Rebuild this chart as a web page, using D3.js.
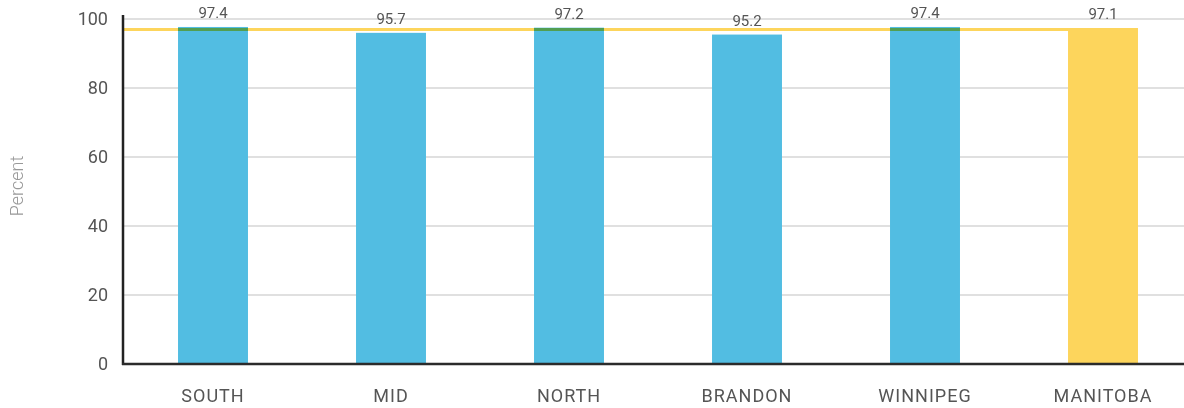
<!DOCTYPE html>
<html><head><meta charset="utf-8">
<script src="https://cdn.jsdelivr.net/npm/d3@7"></script>
<style>
html,body{margin:0;padding:0;background:#fff;}
svg{display:block;font-family:Roboto,"DejaVu Sans",sans-serif;}
</style></head>
<body>
<svg id="chart" width="1184" height="408"></svg>
<script>
const categories = ["SOUTH","MID","NORTH","BRANDON","WINNIPEG","MANITOBA"];
const values = [97.4, 95.7, 97.2, 95.2, 97.4, 97.1];
const provinceValue = 97.1;
const yTicks = [0,20,40,60,80,100];
const yLabel = "Percent";

const svg = d3.select("#chart");
const W = 1184, H = 408;
const m = {left:123, right:0, top:17, bottom:44};
const plotBottom = 364;

const x = d3.scaleBand().domain(categories).range([124, 1192])
  .paddingInner(0.607).paddingOuter(0.3035);
const y = d3.scaleLinear().domain([0,100]).range([plotBottom, 19]);

// gridlines
svg.append("g").selectAll("line").data(yTicks.filter(d=>d>0)).join("line")
  .attr("x1", m.left).attr("x2", W)
  .attr("y1", d=>y(d)).attr("y2", d=>y(d))
  .attr("stroke", "#d6d6d6").attr("stroke-width", 1.5);

// y tick labels
const yAxis = d3.axisLeft(y).tickValues(yTicks).tickSize(0).tickPadding(15);
const ga = svg.append("g").attr("transform", `translate(${m.left},0)`).call(yAxis);
ga.select(".domain").remove();
ga.selectAll("text").attr("font-size", 18).attr("fill", "#555")
  .attr("font-family", "Roboto, sans-serif");

// bars
const colorFor = (c) => c === "MANITOBA" ? "#fdd55c" : "#52bde2";
svg.append("g").selectAll("rect").data(categories).join("rect")
  .attr("x", d => x(d)).attr("width", x.bandwidth())
  .attr("y", (d,i) => y(values[i]) - 1)
  .attr("height", (d,i) => plotBottom - y(values[i]) + 1)
  .attr("fill", d => colorFor(d));

// provincial average line (multiply blend -> green over blue bars)
svg.append("line")
  .attr("x1", m.left).attr("x2", x("MANITOBA"))
  .attr("y1", y(provinceValue) + 0.5).attr("y2", y(provinceValue) + 0.5)
  .attr("stroke", "#fdd55c").attr("stroke-width", 3)
  .style("mix-blend-mode", "multiply");

// value labels
svg.append("g").selectAll("text").data(categories).join("text")
  .attr("x", d => x(d) + x.bandwidth()/2)
  .attr("y", (d,i) => y(values[i]) - 10)
  .attr("text-anchor", "middle")
  .attr("font-size", 15).attr("fill", "#555")
  .text((d,i) => values[i].toFixed(1));

// axes lines
svg.append("line").attr("x1", m.left).attr("x2", m.left)
  .attr("y1", 15).attr("y2", plotBottom + 1)
  .attr("stroke", "#222").attr("stroke-width", 2.5);
svg.append("line").attr("x1", m.left - 1).attr("x2", W)
  .attr("y1", plotBottom).attr("y2", plotBottom)
  .attr("stroke", "#2b2b2b").attr("stroke-width", 2.5);

// x axis labels
const xAxis = d3.axisBottom(x).tickSize(0).tickPadding(25);
const gx = svg.append("g").attr("transform", `translate(0,${plotBottom})`).call(xAxis);
gx.select(".domain").remove();
gx.selectAll("text").attr("font-size", 18).attr("fill", "#555")
  .attr("letter-spacing", "1px").attr("font-family", "Roboto, sans-serif");

// y label
svg.append("text")
  .attr("transform", `translate(23,186) rotate(-90)`)
  .attr("text-anchor", "middle")
  .attr("font-size", 18).attr("font-weight", 300).attr("fill", "#999")
  .text(yLabel);
</script>
</body></html>
